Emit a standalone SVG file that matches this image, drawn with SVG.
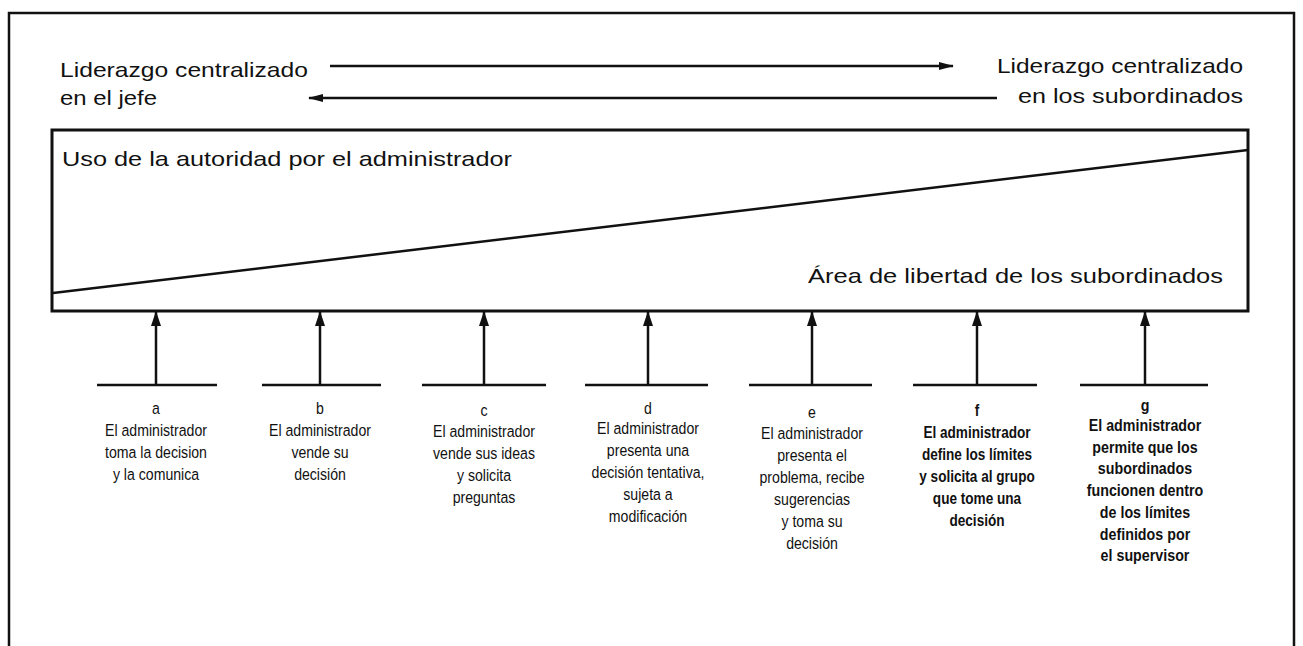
<svg xmlns="http://www.w3.org/2000/svg" width="1303" height="646" viewBox="0 0 1303 646">
<defs>
<marker id="ah" markerWidth="15" markerHeight="10" refX="14" refY="5" orient="auto" markerUnits="userSpaceOnUse">
<path d="M0,1 L15,5 L0,9 Z" fill="#111"/>
</marker>
<marker id="av" markerWidth="15" markerHeight="11" refX="14" refY="5.5" orient="auto" markerUnits="userSpaceOnUse">
<path d="M0,0.5 L15,5.5 L0,10.5 Z" fill="#111"/>
</marker>
<style>
.big{font-family:"Liberation Sans",Arial,sans-serif;font-size:21px;fill:#111}
.lab{font-family:"Liberation Sans",Arial,sans-serif;font-size:17px;fill:#111;text-anchor:middle}
.bold{font-weight:bold}
.ln{stroke:#111;fill:none}
</style>
</defs>
<rect width="1303" height="646" fill="#fff"/>
<g id="frame">
<path class="ln" stroke-width="2.5" d="M9,646 L9,13 L1294,13 L1294,646"/>
</g>
<g id="top-left-label">
<text class="big" x="60" y="77" textLength="248" lengthAdjust="spacingAndGlyphs">Liderazgo centralizado</text>
<text class="big" x="60" y="105" textLength="97" lengthAdjust="spacingAndGlyphs">en el jefe</text>
</g>
<g id="top-right-label">
<text class="big" x="997" y="73" textLength="246" lengthAdjust="spacingAndGlyphs">Liderazgo centralizado</text>
<text class="big" x="1018" y="103" textLength="225" lengthAdjust="spacingAndGlyphs">en los subordinados</text>
</g>
<g id="chart">
<rect class="ln" stroke-width="3" x="52" y="130" width="1196" height="181"/>
<line class="ln" stroke-width="2.5" x1="53" y1="293" x2="1248" y2="150"/>
<text class="big" x="62" y="166" textLength="450" lengthAdjust="spacingAndGlyphs">Uso de la autoridad por el administrador</text>
<text class="big" x="808" y="283" textLength="415" lengthAdjust="spacingAndGlyphs">Área de libertad de los subordinados</text>
</g>
<g id="connectors">
<line class="ln" stroke-width="2.5" x1="330" y1="66" x2="953" y2="66" marker-end="url(#ah)"/>
<line class="ln" stroke-width="2.5" x1="997" y1="98" x2="309" y2="98" marker-end="url(#ah)"/>
<line class="ln" stroke-width="2.5" x1="156" y1="385" x2="156" y2="312" marker-end="url(#av)"/>
<line class="ln" stroke-width="2.5" x1="320" y1="385" x2="320" y2="312" marker-end="url(#av)"/>
<line class="ln" stroke-width="2.5" x1="484" y1="385" x2="484" y2="312" marker-end="url(#av)"/>
<line class="ln" stroke-width="2.5" x1="648" y1="385" x2="648" y2="312" marker-end="url(#av)"/>
<line class="ln" stroke-width="2.5" x1="812" y1="385" x2="812" y2="312" marker-end="url(#av)"/>
<line class="ln" stroke-width="2.5" x1="977" y1="385" x2="977" y2="312" marker-end="url(#av)"/>
<line class="ln" stroke-width="2.5" x1="1145" y1="385" x2="1145" y2="312" marker-end="url(#av)"/>
</g>
<g id="a">
<line class="ln" stroke-width="2.5" x1="97" y1="385" x2="217" y2="385"/>
<text class="lab" transform="matrix(0.83 0 0 1 156 0)" x="0" y="414">a<tspan x="0" y="436">El administrador</tspan><tspan x="0" y="458">toma la decision</tspan><tspan x="0" y="480">y la comunica</tspan></text>
</g>
<g id="b">
<line class="ln" stroke-width="2.5" x1="262" y1="385" x2="381" y2="385"/>
<text class="lab" transform="matrix(0.83 0 0 1 320 0)" x="0" y="414">b<tspan x="0" y="436">El administrador</tspan><tspan x="0" y="458">vende su</tspan><tspan x="0" y="480">decisión</tspan></text>
</g>
<g id="c">
<line class="ln" stroke-width="2.5" x1="422" y1="385" x2="546" y2="385"/>
<text class="lab" transform="matrix(0.83 0 0 1 484 0)" x="0" y="416">c<tspan x="0" y="437">El administrador</tspan><tspan x="0" y="459">vende sus ideas</tspan><tspan x="0" y="481">y solicita</tspan><tspan x="0" y="503">preguntas</tspan></text>
</g>
<g id="d">
<line class="ln" stroke-width="2.5" x1="585" y1="385" x2="708" y2="385"/>
<text class="lab" transform="matrix(0.83 0 0 1 648 0)" x="0" y="414">d<tspan x="0" y="434">El administrador</tspan><tspan x="0" y="456">presenta una</tspan><tspan x="0" y="478">decisión tentativa,</tspan><tspan x="0" y="500">sujeta a</tspan><tspan x="0" y="522">modificación</tspan></text>
</g>
<g id="e">
<line class="ln" stroke-width="2.5" x1="749" y1="385" x2="872" y2="385"/>
<text class="lab" transform="matrix(0.83 0 0 1 812 0)" x="0" y="418">e<tspan x="0" y="439">El administrador</tspan><tspan x="0" y="461">presenta el</tspan><tspan x="0" y="483">problema, recibe</tspan><tspan x="0" y="505">sugerencias</tspan><tspan x="0" y="527">y toma su</tspan><tspan x="0" y="549">decisión</tspan></text>
</g>
<g id="f">
<line class="ln" stroke-width="2.5" x1="913" y1="385" x2="1037" y2="385"/>
<text class="lab bold" transform="matrix(0.8 0 0 1 977 0)" x="0" y="416">f<tspan x="0" y="438">El administrador</tspan><tspan x="0" y="460">define los límites</tspan><tspan x="0" y="482">y solicita al grupo</tspan><tspan x="0" y="504">que tome una</tspan><tspan x="0" y="526">decisión</tspan></text>
</g>
<g id="g">
<line class="ln" stroke-width="2.5" x1="1080" y1="385" x2="1208" y2="385"/>
<text class="lab bold" transform="matrix(0.84 0 0 1 1145 0)" x="0" y="411">g<tspan x="0" y="431">El administrador</tspan><tspan x="0" y="453">permite que los</tspan><tspan x="0" y="474">subordinados</tspan><tspan x="0" y="496">funcionen dentro</tspan><tspan x="0" y="518">de los límites</tspan><tspan x="0" y="540">definidos por</tspan><tspan x="0" y="561">el supervisor</tspan></text>
</g>
</svg>
